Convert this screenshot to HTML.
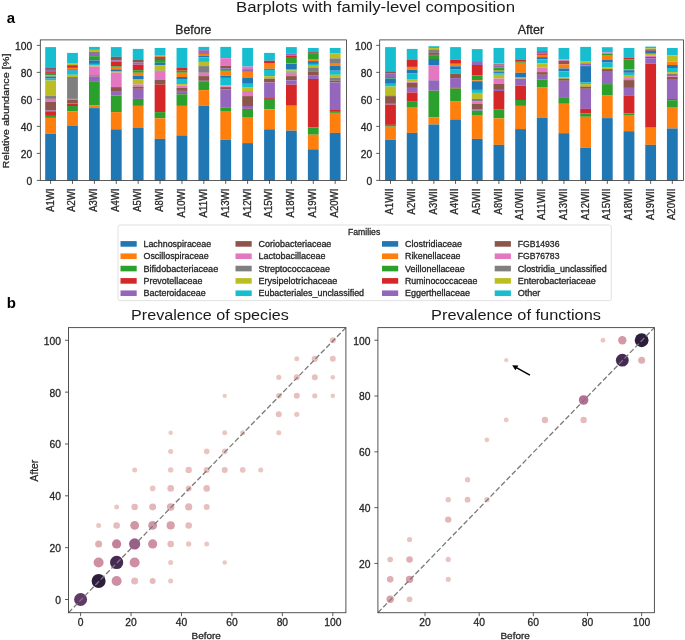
<!DOCTYPE html><html><head><meta charset="utf-8"><style>html,body{margin:0;padding:0;background:#fff;width:685px;height:640px;overflow:hidden}</style></head><body><svg width="685" height="640" viewBox="0 0 685 640" style="display:block;will-change:transform">
<style>text{stroke:#222;stroke-width:0.28px;paint-order:stroke}</style>
<g font-family='"Liberation Sans", sans-serif'>
<rect x="45.20" y="47.10" width="10.80" height="20.30" fill="#17becf"/>
<rect x="45.20" y="67.40" width="10.80" height="2.50" fill="#8c564b"/>
<rect x="45.20" y="69.90" width="10.80" height="2.20" fill="#9467bd"/>
<rect x="45.20" y="72.10" width="10.80" height="0.90" fill="#d62728"/>
<rect x="45.20" y="73.00" width="10.80" height="2.40" fill="#2ca02c"/>
<rect x="45.20" y="75.40" width="10.80" height="1.10" fill="#ff7f0e"/>
<rect x="45.20" y="76.50" width="10.80" height="2.10" fill="#1f77b4"/>
<rect x="45.20" y="78.60" width="10.80" height="1.90" fill="#17becf"/>
<rect x="45.20" y="80.50" width="10.80" height="15.30" fill="#bcbd22"/>
<rect x="45.20" y="95.80" width="10.80" height="3.10" fill="#7f7f7f"/>
<rect x="45.20" y="98.90" width="10.80" height="3.00" fill="#e377c2"/>
<rect x="45.20" y="101.90" width="10.80" height="8.60" fill="#8c564b"/>
<rect x="45.20" y="110.50" width="10.80" height="0.80" fill="#9467bd"/>
<rect x="45.20" y="111.30" width="10.80" height="4.60" fill="#d62728"/>
<rect x="45.20" y="115.90" width="10.80" height="2.00" fill="#2ca02c"/>
<rect x="45.20" y="117.90" width="10.80" height="15.80" fill="#ff7f0e"/>
<rect x="45.20" y="133.70" width="10.80" height="46.70" fill="#1f77b4"/>
<rect x="67.09" y="52.90" width="10.80" height="10.20" fill="#17becf"/>
<rect x="67.09" y="63.10" width="10.80" height="2.10" fill="#bcbd22"/>
<rect x="67.09" y="65.20" width="10.80" height="2.70" fill="#d62728"/>
<rect x="67.09" y="67.90" width="10.80" height="1.40" fill="#ff7f0e"/>
<rect x="67.09" y="69.30" width="10.80" height="1.40" fill="#1f77b4"/>
<rect x="67.09" y="70.70" width="10.80" height="4.10" fill="#17becf"/>
<rect x="67.09" y="74.80" width="10.80" height="2.20" fill="#bcbd22"/>
<rect x="67.09" y="77.00" width="10.80" height="21.90" fill="#7f7f7f"/>
<rect x="67.09" y="98.90" width="10.80" height="1.10" fill="#e377c2"/>
<rect x="67.09" y="100.00" width="10.80" height="3.00" fill="#8c564b"/>
<rect x="67.09" y="103.00" width="10.80" height="0.80" fill="#9467bd"/>
<rect x="67.09" y="103.80" width="10.80" height="2.20" fill="#d62728"/>
<rect x="67.09" y="106.00" width="10.80" height="5.20" fill="#2ca02c"/>
<rect x="67.09" y="111.20" width="10.80" height="14.80" fill="#ff7f0e"/>
<rect x="67.09" y="126.00" width="10.80" height="54.40" fill="#1f77b4"/>
<rect x="88.98" y="46.90" width="10.80" height="3.00" fill="#17becf"/>
<rect x="88.98" y="49.90" width="10.80" height="1.90" fill="#bcbd22"/>
<rect x="88.98" y="51.80" width="10.80" height="2.20" fill="#7f7f7f"/>
<rect x="88.98" y="54.00" width="10.80" height="2.20" fill="#9467bd"/>
<rect x="88.98" y="56.20" width="10.80" height="4.20" fill="#2ca02c"/>
<rect x="88.98" y="60.40" width="10.80" height="3.50" fill="#1f77b4"/>
<rect x="88.98" y="63.90" width="10.80" height="1.30" fill="#17becf"/>
<rect x="88.98" y="65.20" width="10.80" height="1.40" fill="#bcbd22"/>
<rect x="88.98" y="66.60" width="10.80" height="8.80" fill="#e377c2"/>
<rect x="88.98" y="75.40" width="10.80" height="1.10" fill="#8c564b"/>
<rect x="88.98" y="76.50" width="10.80" height="5.40" fill="#9467bd"/>
<rect x="88.98" y="81.90" width="10.80" height="23.60" fill="#2ca02c"/>
<rect x="88.98" y="105.50" width="10.80" height="2.60" fill="#ff7f0e"/>
<rect x="88.98" y="108.10" width="10.80" height="72.30" fill="#1f77b4"/>
<rect x="110.87" y="47.10" width="10.80" height="9.70" fill="#17becf"/>
<rect x="110.87" y="56.80" width="10.80" height="3.60" fill="#8c564b"/>
<rect x="110.87" y="60.40" width="10.80" height="1.10" fill="#9467bd"/>
<rect x="110.87" y="61.50" width="10.80" height="4.80" fill="#d62728"/>
<rect x="110.87" y="66.30" width="10.80" height="1.40" fill="#2ca02c"/>
<rect x="110.87" y="67.70" width="10.80" height="1.60" fill="#ff7f0e"/>
<rect x="110.87" y="69.30" width="10.80" height="1.70" fill="#1f77b4"/>
<rect x="110.87" y="71.00" width="10.80" height="0.80" fill="#17becf"/>
<rect x="110.87" y="71.80" width="10.80" height="0.80" fill="#bcbd22"/>
<rect x="110.87" y="72.60" width="10.80" height="14.50" fill="#e377c2"/>
<rect x="110.87" y="87.10" width="10.80" height="4.70" fill="#8c564b"/>
<rect x="110.87" y="91.80" width="10.80" height="3.80" fill="#9467bd"/>
<rect x="110.87" y="95.60" width="10.80" height="16.50" fill="#2ca02c"/>
<rect x="110.87" y="112.10" width="10.80" height="17.20" fill="#ff7f0e"/>
<rect x="110.87" y="129.30" width="10.80" height="51.10" fill="#1f77b4"/>
<rect x="132.76" y="48.90" width="10.80" height="11.10" fill="#17becf"/>
<rect x="132.76" y="60.00" width="10.80" height="2.60" fill="#8c564b"/>
<rect x="132.76" y="62.60" width="10.80" height="2.10" fill="#9467bd"/>
<rect x="132.76" y="64.70" width="10.80" height="5.50" fill="#d62728"/>
<rect x="132.76" y="70.20" width="10.80" height="2.60" fill="#2ca02c"/>
<rect x="132.76" y="72.80" width="10.80" height="2.90" fill="#ff7f0e"/>
<rect x="132.76" y="75.70" width="10.80" height="3.30" fill="#1f77b4"/>
<rect x="132.76" y="79.00" width="10.80" height="5.40" fill="#bcbd22"/>
<rect x="132.76" y="84.40" width="10.80" height="2.20" fill="#e377c2"/>
<rect x="132.76" y="86.60" width="10.80" height="2.20" fill="#8c564b"/>
<rect x="132.76" y="88.80" width="10.80" height="10.10" fill="#9467bd"/>
<rect x="132.76" y="98.90" width="10.80" height="7.00" fill="#2ca02c"/>
<rect x="132.76" y="105.90" width="10.80" height="22.10" fill="#ff7f0e"/>
<rect x="132.76" y="128.00" width="10.80" height="52.40" fill="#1f77b4"/>
<rect x="154.65" y="48.00" width="10.80" height="7.30" fill="#17becf"/>
<rect x="154.65" y="55.30" width="10.80" height="1.50" fill="#ff7f0e"/>
<rect x="154.65" y="56.80" width="10.80" height="3.20" fill="#8c564b"/>
<rect x="154.65" y="60.00" width="10.80" height="2.80" fill="#2ca02c"/>
<rect x="154.65" y="62.80" width="10.80" height="2.40" fill="#1f77b4"/>
<rect x="154.65" y="65.20" width="10.80" height="5.50" fill="#bcbd22"/>
<rect x="154.65" y="70.70" width="10.80" height="1.00" fill="#7f7f7f"/>
<rect x="154.65" y="71.70" width="10.80" height="8.00" fill="#e377c2"/>
<rect x="154.65" y="79.70" width="10.80" height="5.00" fill="#8c564b"/>
<rect x="154.65" y="84.70" width="10.80" height="27.40" fill="#d62728"/>
<rect x="154.65" y="112.10" width="10.80" height="6.20" fill="#2ca02c"/>
<rect x="154.65" y="118.30" width="10.80" height="20.60" fill="#ff7f0e"/>
<rect x="154.65" y="138.90" width="10.80" height="41.50" fill="#1f77b4"/>
<rect x="176.54" y="48.00" width="10.80" height="20.00" fill="#17becf"/>
<rect x="176.54" y="68.00" width="10.80" height="2.70" fill="#d62728"/>
<rect x="176.54" y="70.70" width="10.80" height="2.10" fill="#2ca02c"/>
<rect x="176.54" y="72.80" width="10.80" height="4.20" fill="#ff7f0e"/>
<rect x="176.54" y="77.00" width="10.80" height="2.00" fill="#1f77b4"/>
<rect x="176.54" y="79.00" width="10.80" height="5.10" fill="#17becf"/>
<rect x="176.54" y="84.10" width="10.80" height="1.60" fill="#bcbd22"/>
<rect x="176.54" y="85.70" width="10.80" height="2.20" fill="#e377c2"/>
<rect x="176.54" y="87.90" width="10.80" height="3.00" fill="#8c564b"/>
<rect x="176.54" y="90.90" width="10.80" height="2.30" fill="#9467bd"/>
<rect x="176.54" y="93.20" width="10.80" height="1.10" fill="#d62728"/>
<rect x="176.54" y="94.30" width="10.80" height="11.60" fill="#2ca02c"/>
<rect x="176.54" y="105.90" width="10.80" height="29.50" fill="#ff7f0e"/>
<rect x="176.54" y="135.40" width="10.80" height="45.00" fill="#1f77b4"/>
<rect x="198.43" y="46.90" width="10.80" height="3.30" fill="#17becf"/>
<rect x="198.43" y="50.20" width="10.80" height="2.70" fill="#9467bd"/>
<rect x="198.43" y="52.90" width="10.80" height="0.90" fill="#d62728"/>
<rect x="198.43" y="53.80" width="10.80" height="2.20" fill="#ff7f0e"/>
<rect x="198.43" y="56.00" width="10.80" height="1.30" fill="#1f77b4"/>
<rect x="198.43" y="57.30" width="10.80" height="4.60" fill="#17becf"/>
<rect x="198.43" y="61.90" width="10.80" height="4.20" fill="#bcbd22"/>
<rect x="198.43" y="66.10" width="10.80" height="6.70" fill="#7f7f7f"/>
<rect x="198.43" y="72.80" width="10.80" height="3.30" fill="#e377c2"/>
<rect x="198.43" y="76.10" width="10.80" height="4.70" fill="#8c564b"/>
<rect x="198.43" y="80.80" width="10.80" height="1.10" fill="#9467bd"/>
<rect x="198.43" y="81.90" width="10.80" height="8.20" fill="#2ca02c"/>
<rect x="198.43" y="90.10" width="10.80" height="15.80" fill="#ff7f0e"/>
<rect x="198.43" y="105.90" width="10.80" height="74.50" fill="#1f77b4"/>
<rect x="220.32" y="46.90" width="10.80" height="11.30" fill="#17becf"/>
<rect x="220.32" y="58.20" width="10.80" height="7.60" fill="#e377c2"/>
<rect x="220.32" y="65.80" width="10.80" height="2.40" fill="#8c564b"/>
<rect x="220.32" y="68.20" width="10.80" height="1.00" fill="#9467bd"/>
<rect x="220.32" y="69.20" width="10.80" height="1.00" fill="#d62728"/>
<rect x="220.32" y="70.20" width="10.80" height="0.80" fill="#2ca02c"/>
<rect x="220.32" y="71.00" width="10.80" height="4.70" fill="#ff7f0e"/>
<rect x="220.32" y="75.70" width="10.80" height="2.20" fill="#1f77b4"/>
<rect x="220.32" y="77.90" width="10.80" height="7.30" fill="#17becf"/>
<rect x="220.32" y="85.20" width="10.80" height="1.10" fill="#bcbd22"/>
<rect x="220.32" y="86.30" width="10.80" height="0.80" fill="#e377c2"/>
<rect x="220.32" y="87.10" width="10.80" height="2.50" fill="#8c564b"/>
<rect x="220.32" y="89.60" width="10.80" height="17.70" fill="#9467bd"/>
<rect x="220.32" y="107.30" width="10.80" height="3.70" fill="#2ca02c"/>
<rect x="220.32" y="111.00" width="10.80" height="28.80" fill="#ff7f0e"/>
<rect x="220.32" y="139.80" width="10.80" height="40.60" fill="#1f77b4"/>
<rect x="242.21" y="48.00" width="10.80" height="18.60" fill="#17becf"/>
<rect x="242.21" y="66.60" width="10.80" height="2.50" fill="#e377c2"/>
<rect x="242.21" y="69.10" width="10.80" height="1.90" fill="#9467bd"/>
<rect x="242.21" y="71.00" width="10.80" height="0.70" fill="#d62728"/>
<rect x="242.21" y="71.70" width="10.80" height="5.80" fill="#ff7f0e"/>
<rect x="242.21" y="77.50" width="10.80" height="6.30" fill="#1f77b4"/>
<rect x="242.21" y="83.80" width="10.80" height="3.30" fill="#17becf"/>
<rect x="242.21" y="87.10" width="10.80" height="3.90" fill="#bcbd22"/>
<rect x="242.21" y="91.00" width="10.80" height="5.10" fill="#e377c2"/>
<rect x="242.21" y="96.10" width="10.80" height="9.90" fill="#8c564b"/>
<rect x="242.21" y="106.00" width="10.80" height="2.80" fill="#9467bd"/>
<rect x="242.21" y="108.80" width="10.80" height="1.10" fill="#d62728"/>
<rect x="242.21" y="109.90" width="10.80" height="7.10" fill="#2ca02c"/>
<rect x="242.21" y="117.00" width="10.80" height="26.10" fill="#ff7f0e"/>
<rect x="242.21" y="143.10" width="10.80" height="37.30" fill="#1f77b4"/>
<rect x="264.10" y="52.90" width="10.80" height="7.90" fill="#17becf"/>
<rect x="264.10" y="60.80" width="10.80" height="2.20" fill="#d62728"/>
<rect x="264.10" y="63.00" width="10.80" height="5.80" fill="#ff7f0e"/>
<rect x="264.10" y="68.80" width="10.80" height="1.10" fill="#1f77b4"/>
<rect x="264.10" y="69.90" width="10.80" height="6.20" fill="#17becf"/>
<rect x="264.10" y="76.10" width="10.80" height="2.50" fill="#bcbd22"/>
<rect x="264.10" y="78.60" width="10.80" height="3.90" fill="#8c564b"/>
<rect x="264.10" y="82.50" width="10.80" height="15.50" fill="#9467bd"/>
<rect x="264.10" y="98.00" width="10.80" height="0.90" fill="#d62728"/>
<rect x="264.10" y="98.90" width="10.80" height="10.50" fill="#2ca02c"/>
<rect x="264.10" y="109.40" width="10.80" height="19.90" fill="#ff7f0e"/>
<rect x="264.10" y="129.30" width="10.80" height="51.10" fill="#1f77b4"/>
<rect x="285.99" y="47.10" width="10.80" height="6.70" fill="#17becf"/>
<rect x="285.99" y="53.80" width="10.80" height="1.90" fill="#9467bd"/>
<rect x="285.99" y="55.70" width="10.80" height="2.20" fill="#d62728"/>
<rect x="285.99" y="57.90" width="10.80" height="5.10" fill="#2ca02c"/>
<rect x="285.99" y="63.00" width="10.80" height="0.90" fill="#ff7f0e"/>
<rect x="285.99" y="63.90" width="10.80" height="5.20" fill="#1f77b4"/>
<rect x="285.99" y="69.10" width="10.80" height="1.30" fill="#17becf"/>
<rect x="285.99" y="70.40" width="10.80" height="2.00" fill="#bcbd22"/>
<rect x="285.99" y="72.40" width="10.80" height="1.30" fill="#7f7f7f"/>
<rect x="285.99" y="73.70" width="10.80" height="2.40" fill="#e377c2"/>
<rect x="285.99" y="76.10" width="10.80" height="4.20" fill="#8c564b"/>
<rect x="285.99" y="80.30" width="10.80" height="4.40" fill="#9467bd"/>
<rect x="285.99" y="84.70" width="10.80" height="20.50" fill="#d62728"/>
<rect x="285.99" y="105.20" width="10.80" height="0.80" fill="#2ca02c"/>
<rect x="285.99" y="106.00" width="10.80" height="24.70" fill="#ff7f0e"/>
<rect x="285.99" y="130.70" width="10.80" height="49.70" fill="#1f77b4"/>
<rect x="307.88" y="48.00" width="10.80" height="4.10" fill="#17becf"/>
<rect x="307.88" y="52.10" width="10.80" height="1.70" fill="#8c564b"/>
<rect x="307.88" y="53.80" width="10.80" height="5.90" fill="#2ca02c"/>
<rect x="307.88" y="59.70" width="10.80" height="1.40" fill="#ff7f0e"/>
<rect x="307.88" y="61.10" width="10.80" height="2.80" fill="#1f77b4"/>
<rect x="307.88" y="63.90" width="10.80" height="1.90" fill="#17becf"/>
<rect x="307.88" y="65.80" width="10.80" height="1.60" fill="#bcbd22"/>
<rect x="307.88" y="67.40" width="10.80" height="3.90" fill="#7f7f7f"/>
<rect x="307.88" y="71.30" width="10.80" height="4.40" fill="#8c564b"/>
<rect x="307.88" y="75.70" width="10.80" height="3.30" fill="#9467bd"/>
<rect x="307.88" y="79.00" width="10.80" height="48.40" fill="#d62728"/>
<rect x="307.88" y="127.40" width="10.80" height="7.30" fill="#2ca02c"/>
<rect x="307.88" y="134.70" width="10.80" height="14.60" fill="#ff7f0e"/>
<rect x="307.88" y="149.30" width="10.80" height="31.10" fill="#1f77b4"/>
<rect x="329.77" y="48.00" width="10.80" height="5.50" fill="#17becf"/>
<rect x="329.77" y="53.50" width="10.80" height="4.90" fill="#bcbd22"/>
<rect x="329.77" y="58.40" width="10.80" height="4.60" fill="#7f7f7f"/>
<rect x="329.77" y="63.00" width="10.80" height="2.80" fill="#ff7f0e"/>
<rect x="329.77" y="65.80" width="10.80" height="4.90" fill="#1f77b4"/>
<rect x="329.77" y="70.70" width="10.80" height="4.10" fill="#17becf"/>
<rect x="329.77" y="74.80" width="10.80" height="3.10" fill="#bcbd22"/>
<rect x="329.77" y="77.90" width="10.80" height="2.90" fill="#7f7f7f"/>
<rect x="329.77" y="80.80" width="10.80" height="1.70" fill="#8c564b"/>
<rect x="329.77" y="82.50" width="10.80" height="27.50" fill="#9467bd"/>
<rect x="329.77" y="110.00" width="10.80" height="1.00" fill="#d62728"/>
<rect x="329.77" y="111.00" width="10.80" height="1.90" fill="#2ca02c"/>
<rect x="329.77" y="112.90" width="10.80" height="20.00" fill="#ff7f0e"/>
<rect x="329.77" y="132.90" width="10.80" height="47.50" fill="#1f77b4"/>
<line x1="36.8" y1="180.40" x2="40.3" y2="180.40" stroke="#333" stroke-width="0.8"/>
<text x="32.2" y="185.00" font-size="10.0" text-anchor="end" font-weight="normal" fill="#262626" textLength="5.73" lengthAdjust="spacingAndGlyphs">0</text>
<line x1="36.8" y1="153.39" x2="40.3" y2="153.39" stroke="#333" stroke-width="0.8"/>
<text x="32.2" y="157.99" font-size="10.0" text-anchor="end" font-weight="normal" fill="#262626" textLength="11.45" lengthAdjust="spacingAndGlyphs">20</text>
<line x1="36.8" y1="126.38" x2="40.3" y2="126.38" stroke="#333" stroke-width="0.8"/>
<text x="32.2" y="130.98" font-size="10.0" text-anchor="end" font-weight="normal" fill="#262626" textLength="11.45" lengthAdjust="spacingAndGlyphs">40</text>
<line x1="36.8" y1="99.37" x2="40.3" y2="99.37" stroke="#333" stroke-width="0.8"/>
<text x="32.2" y="103.97" font-size="10.0" text-anchor="end" font-weight="normal" fill="#262626" textLength="11.45" lengthAdjust="spacingAndGlyphs">60</text>
<line x1="36.8" y1="72.36" x2="40.3" y2="72.36" stroke="#333" stroke-width="0.8"/>
<text x="32.2" y="76.96" font-size="10.0" text-anchor="end" font-weight="normal" fill="#262626" textLength="11.45" lengthAdjust="spacingAndGlyphs">80</text>
<line x1="36.8" y1="45.35" x2="40.3" y2="45.35" stroke="#333" stroke-width="0.8"/>
<text x="32.2" y="49.95" font-size="10.0" text-anchor="end" font-weight="normal" fill="#262626" textLength="17.18" lengthAdjust="spacingAndGlyphs">100</text>
<line x1="50.60" y1="180.4" x2="50.60" y2="183.9" stroke="#333" stroke-width="0.8"/>
<text transform="translate(53.50,188.7) rotate(-90)" font-size="10.2" text-anchor="end" fill="#262626" textLength="23.09" lengthAdjust="spacingAndGlyphs">A1WI</text>
<line x1="72.49" y1="180.4" x2="72.49" y2="183.9" stroke="#333" stroke-width="0.8"/>
<text transform="translate(75.39,188.7) rotate(-90)" font-size="10.2" text-anchor="end" fill="#262626" textLength="23.09" lengthAdjust="spacingAndGlyphs">A2WI</text>
<line x1="94.38" y1="180.4" x2="94.38" y2="183.9" stroke="#333" stroke-width="0.8"/>
<text transform="translate(97.28,188.7) rotate(-90)" font-size="10.2" text-anchor="end" fill="#262626" textLength="23.09" lengthAdjust="spacingAndGlyphs">A3WI</text>
<line x1="116.27" y1="180.4" x2="116.27" y2="183.9" stroke="#333" stroke-width="0.8"/>
<text transform="translate(119.17,188.7) rotate(-90)" font-size="10.2" text-anchor="end" fill="#262626" textLength="23.09" lengthAdjust="spacingAndGlyphs">A4WI</text>
<line x1="138.16" y1="180.4" x2="138.16" y2="183.9" stroke="#333" stroke-width="0.8"/>
<text transform="translate(141.06,188.7) rotate(-90)" font-size="10.2" text-anchor="end" fill="#262626" textLength="23.09" lengthAdjust="spacingAndGlyphs">A5WI</text>
<line x1="160.05" y1="180.4" x2="160.05" y2="183.9" stroke="#333" stroke-width="0.8"/>
<text transform="translate(162.95,188.7) rotate(-90)" font-size="10.2" text-anchor="end" fill="#262626" textLength="23.09" lengthAdjust="spacingAndGlyphs">A8WI</text>
<line x1="181.94" y1="180.4" x2="181.94" y2="183.9" stroke="#333" stroke-width="0.8"/>
<text transform="translate(184.84,188.7) rotate(-90)" font-size="10.2" text-anchor="end" fill="#262626" textLength="28.72" lengthAdjust="spacingAndGlyphs">A10WI</text>
<line x1="203.83" y1="180.4" x2="203.83" y2="183.9" stroke="#333" stroke-width="0.8"/>
<text transform="translate(206.73,188.7) rotate(-90)" font-size="10.2" text-anchor="end" fill="#262626" textLength="28.72" lengthAdjust="spacingAndGlyphs">A11WI</text>
<line x1="225.72" y1="180.4" x2="225.72" y2="183.9" stroke="#333" stroke-width="0.8"/>
<text transform="translate(228.62,188.7) rotate(-90)" font-size="10.2" text-anchor="end" fill="#262626" textLength="28.72" lengthAdjust="spacingAndGlyphs">A13WI</text>
<line x1="247.61" y1="180.4" x2="247.61" y2="183.9" stroke="#333" stroke-width="0.8"/>
<text transform="translate(250.51,188.7) rotate(-90)" font-size="10.2" text-anchor="end" fill="#262626" textLength="28.72" lengthAdjust="spacingAndGlyphs">A12WI</text>
<line x1="269.50" y1="180.4" x2="269.50" y2="183.9" stroke="#333" stroke-width="0.8"/>
<text transform="translate(272.40,188.7) rotate(-90)" font-size="10.2" text-anchor="end" fill="#262626" textLength="28.72" lengthAdjust="spacingAndGlyphs">A15WI</text>
<line x1="291.39" y1="180.4" x2="291.39" y2="183.9" stroke="#333" stroke-width="0.8"/>
<text transform="translate(294.29,188.7) rotate(-90)" font-size="10.2" text-anchor="end" fill="#262626" textLength="28.72" lengthAdjust="spacingAndGlyphs">A18WI</text>
<line x1="313.28" y1="180.4" x2="313.28" y2="183.9" stroke="#333" stroke-width="0.8"/>
<text transform="translate(316.18,188.7) rotate(-90)" font-size="10.2" text-anchor="end" fill="#262626" textLength="28.72" lengthAdjust="spacingAndGlyphs">A19WI</text>
<line x1="335.17" y1="180.4" x2="335.17" y2="183.9" stroke="#333" stroke-width="0.8"/>
<text transform="translate(338.07,188.7) rotate(-90)" font-size="10.2" text-anchor="end" fill="#262626" textLength="28.72" lengthAdjust="spacingAndGlyphs">A20WI</text>
<rect x="40.3" y="39.9" width="306.2" height="140.5" fill="none" stroke="#333" stroke-width="0.8"/>
<rect x="385.10" y="47.10" width="10.80" height="24.20" fill="#17becf"/>
<rect x="385.10" y="71.30" width="10.80" height="1.90" fill="#8c564b"/>
<rect x="385.10" y="73.20" width="10.80" height="3.80" fill="#9467bd"/>
<rect x="385.10" y="77.00" width="10.80" height="0.80" fill="#d62728"/>
<rect x="385.10" y="77.80" width="10.80" height="0.80" fill="#2ca02c"/>
<rect x="385.10" y="78.60" width="10.80" height="5.20" fill="#1f77b4"/>
<rect x="385.10" y="83.80" width="10.80" height="2.80" fill="#17becf"/>
<rect x="385.10" y="86.60" width="10.80" height="8.40" fill="#bcbd22"/>
<rect x="385.10" y="95.00" width="10.80" height="1.10" fill="#e377c2"/>
<rect x="385.10" y="96.10" width="10.80" height="6.90" fill="#8c564b"/>
<rect x="385.10" y="103.00" width="10.80" height="1.60" fill="#9467bd"/>
<rect x="385.10" y="104.60" width="10.80" height="20.30" fill="#d62728"/>
<rect x="385.10" y="124.90" width="10.80" height="1.80" fill="#2ca02c"/>
<rect x="385.10" y="126.70" width="10.80" height="13.10" fill="#ff7f0e"/>
<rect x="385.10" y="139.80" width="10.80" height="40.60" fill="#1f77b4"/>
<rect x="406.78" y="48.90" width="10.80" height="10.60" fill="#17becf"/>
<rect x="406.78" y="59.50" width="10.80" height="7.40" fill="#d62728"/>
<rect x="406.78" y="66.90" width="10.80" height="3.00" fill="#ff7f0e"/>
<rect x="406.78" y="69.90" width="10.80" height="3.30" fill="#1f77b4"/>
<rect x="406.78" y="73.20" width="10.80" height="6.50" fill="#17becf"/>
<rect x="406.78" y="79.70" width="10.80" height="1.70" fill="#bcbd22"/>
<rect x="406.78" y="81.40" width="10.80" height="1.30" fill="#e377c2"/>
<rect x="406.78" y="82.70" width="10.80" height="5.20" fill="#8c564b"/>
<rect x="406.78" y="87.90" width="10.80" height="4.60" fill="#9467bd"/>
<rect x="406.78" y="92.50" width="10.80" height="8.60" fill="#d62728"/>
<rect x="406.78" y="101.10" width="10.80" height="5.90" fill="#2ca02c"/>
<rect x="406.78" y="107.00" width="10.80" height="25.90" fill="#ff7f0e"/>
<rect x="406.78" y="132.90" width="10.80" height="47.50" fill="#1f77b4"/>
<rect x="428.46" y="46.20" width="10.80" height="1.80" fill="#17becf"/>
<rect x="428.46" y="48.00" width="10.80" height="1.40" fill="#bcbd22"/>
<rect x="428.46" y="49.40" width="10.80" height="3.50" fill="#7f7f7f"/>
<rect x="428.46" y="52.90" width="10.80" height="2.00" fill="#8c564b"/>
<rect x="428.46" y="54.90" width="10.80" height="1.10" fill="#9467bd"/>
<rect x="428.46" y="56.00" width="10.80" height="3.00" fill="#2ca02c"/>
<rect x="428.46" y="59.00" width="10.80" height="6.00" fill="#1f77b4"/>
<rect x="428.46" y="65.00" width="10.80" height="0.80" fill="#17becf"/>
<rect x="428.46" y="65.80" width="10.80" height="14.50" fill="#e377c2"/>
<rect x="428.46" y="80.30" width="10.80" height="10.40" fill="#9467bd"/>
<rect x="428.46" y="90.70" width="10.80" height="26.50" fill="#2ca02c"/>
<rect x="428.46" y="117.20" width="10.80" height="7.30" fill="#ff7f0e"/>
<rect x="428.46" y="124.50" width="10.80" height="55.90" fill="#1f77b4"/>
<rect x="450.14" y="47.10" width="10.80" height="12.60" fill="#17becf"/>
<rect x="450.14" y="59.70" width="10.80" height="3.30" fill="#d62728"/>
<rect x="450.14" y="63.00" width="10.80" height="0.90" fill="#2ca02c"/>
<rect x="450.14" y="63.90" width="10.80" height="2.40" fill="#ff7f0e"/>
<rect x="450.14" y="66.30" width="10.80" height="2.80" fill="#1f77b4"/>
<rect x="450.14" y="69.10" width="10.80" height="4.40" fill="#17becf"/>
<rect x="450.14" y="73.50" width="10.80" height="4.60" fill="#8c564b"/>
<rect x="450.14" y="78.10" width="10.80" height="9.30" fill="#9467bd"/>
<rect x="450.14" y="87.40" width="10.80" height="1.10" fill="#d62728"/>
<rect x="450.14" y="88.50" width="10.80" height="12.60" fill="#2ca02c"/>
<rect x="450.14" y="101.10" width="10.80" height="18.30" fill="#ff7f0e"/>
<rect x="450.14" y="119.40" width="10.80" height="61.00" fill="#1f77b4"/>
<rect x="471.82" y="49.10" width="10.80" height="12.00" fill="#17becf"/>
<rect x="471.82" y="61.10" width="10.80" height="3.90" fill="#9467bd"/>
<rect x="471.82" y="65.00" width="10.80" height="10.40" fill="#d62728"/>
<rect x="471.82" y="75.40" width="10.80" height="4.90" fill="#2ca02c"/>
<rect x="471.82" y="80.30" width="10.80" height="0.90" fill="#ff7f0e"/>
<rect x="471.82" y="81.20" width="10.80" height="8.70" fill="#1f77b4"/>
<rect x="471.82" y="89.90" width="10.80" height="3.00" fill="#17becf"/>
<rect x="471.82" y="92.90" width="10.80" height="6.00" fill="#bcbd22"/>
<rect x="471.82" y="98.90" width="10.80" height="2.70" fill="#7f7f7f"/>
<rect x="471.82" y="101.60" width="10.80" height="2.20" fill="#e377c2"/>
<rect x="471.82" y="103.80" width="10.80" height="5.40" fill="#8c564b"/>
<rect x="471.82" y="109.20" width="10.80" height="1.50" fill="#9467bd"/>
<rect x="471.82" y="110.70" width="10.80" height="5.00" fill="#2ca02c"/>
<rect x="471.82" y="115.70" width="10.80" height="23.20" fill="#ff7f0e"/>
<rect x="471.82" y="138.90" width="10.80" height="41.50" fill="#1f77b4"/>
<rect x="493.50" y="48.00" width="10.80" height="15.30" fill="#17becf"/>
<rect x="493.50" y="63.30" width="10.80" height="1.00" fill="#e377c2"/>
<rect x="493.50" y="64.30" width="10.80" height="1.30" fill="#8c564b"/>
<rect x="493.50" y="65.60" width="10.80" height="1.80" fill="#9467bd"/>
<rect x="493.50" y="67.40" width="10.80" height="3.30" fill="#2ca02c"/>
<rect x="493.50" y="70.70" width="10.80" height="1.40" fill="#ff7f0e"/>
<rect x="493.50" y="72.10" width="10.80" height="1.10" fill="#1f77b4"/>
<rect x="493.50" y="73.20" width="10.80" height="1.60" fill="#17becf"/>
<rect x="493.50" y="74.80" width="10.80" height="3.80" fill="#bcbd22"/>
<rect x="493.50" y="78.60" width="10.80" height="5.20" fill="#e377c2"/>
<rect x="493.50" y="83.80" width="10.80" height="6.10" fill="#8c564b"/>
<rect x="493.50" y="89.90" width="10.80" height="1.10" fill="#9467bd"/>
<rect x="493.50" y="91.00" width="10.80" height="18.20" fill="#d62728"/>
<rect x="493.50" y="109.20" width="10.80" height="9.10" fill="#2ca02c"/>
<rect x="493.50" y="118.30" width="10.80" height="26.60" fill="#ff7f0e"/>
<rect x="493.50" y="144.90" width="10.80" height="35.50" fill="#1f77b4"/>
<rect x="515.18" y="48.00" width="10.80" height="12.00" fill="#17becf"/>
<rect x="515.18" y="60.00" width="10.80" height="1.10" fill="#d62728"/>
<rect x="515.18" y="61.10" width="10.80" height="1.70" fill="#2ca02c"/>
<rect x="515.18" y="62.80" width="10.80" height="10.00" fill="#ff7f0e"/>
<rect x="515.18" y="72.80" width="10.80" height="4.40" fill="#1f77b4"/>
<rect x="515.18" y="77.20" width="10.80" height="0.70" fill="#17becf"/>
<rect x="515.18" y="77.90" width="10.80" height="0.70" fill="#bcbd22"/>
<rect x="515.18" y="78.60" width="10.80" height="7.10" fill="#9467bd"/>
<rect x="515.18" y="85.70" width="10.80" height="14.30" fill="#d62728"/>
<rect x="515.18" y="100.00" width="10.80" height="5.90" fill="#2ca02c"/>
<rect x="515.18" y="105.90" width="10.80" height="23.20" fill="#ff7f0e"/>
<rect x="515.18" y="129.10" width="10.80" height="51.30" fill="#1f77b4"/>
<rect x="536.86" y="47.10" width="10.80" height="3.90" fill="#17becf"/>
<rect x="536.86" y="51.00" width="10.80" height="2.50" fill="#9467bd"/>
<rect x="536.86" y="53.50" width="10.80" height="1.40" fill="#d62728"/>
<rect x="536.86" y="54.90" width="10.80" height="2.20" fill="#ff7f0e"/>
<rect x="536.86" y="57.10" width="10.80" height="2.20" fill="#1f77b4"/>
<rect x="536.86" y="59.30" width="10.80" height="4.00" fill="#17becf"/>
<rect x="536.86" y="63.30" width="10.80" height="4.40" fill="#bcbd22"/>
<rect x="536.86" y="67.70" width="10.80" height="4.40" fill="#e377c2"/>
<rect x="536.86" y="72.10" width="10.80" height="2.70" fill="#8c564b"/>
<rect x="536.86" y="74.80" width="10.80" height="4.90" fill="#9467bd"/>
<rect x="536.86" y="79.70" width="10.80" height="7.40" fill="#2ca02c"/>
<rect x="536.86" y="87.10" width="10.80" height="30.50" fill="#ff7f0e"/>
<rect x="536.86" y="117.60" width="10.80" height="62.80" fill="#1f77b4"/>
<rect x="558.54" y="48.00" width="10.80" height="11.50" fill="#17becf"/>
<rect x="558.54" y="59.50" width="10.80" height="1.30" fill="#e377c2"/>
<rect x="558.54" y="60.80" width="10.80" height="3.60" fill="#8c564b"/>
<rect x="558.54" y="64.40" width="10.80" height="4.10" fill="#ff7f0e"/>
<rect x="558.54" y="68.50" width="10.80" height="2.80" fill="#1f77b4"/>
<rect x="558.54" y="71.30" width="10.80" height="5.90" fill="#17becf"/>
<rect x="558.54" y="77.20" width="10.80" height="1.40" fill="#bcbd22"/>
<rect x="558.54" y="78.60" width="10.80" height="2.20" fill="#8c564b"/>
<rect x="558.54" y="80.80" width="10.80" height="16.40" fill="#9467bd"/>
<rect x="558.54" y="97.20" width="10.80" height="6.60" fill="#2ca02c"/>
<rect x="558.54" y="103.80" width="10.80" height="29.40" fill="#ff7f0e"/>
<rect x="558.54" y="133.20" width="10.80" height="47.20" fill="#1f77b4"/>
<rect x="580.22" y="46.90" width="10.80" height="14.20" fill="#17becf"/>
<rect x="580.22" y="61.10" width="10.80" height="2.20" fill="#bcbd22"/>
<rect x="580.22" y="63.30" width="10.80" height="1.70" fill="#9467bd"/>
<rect x="580.22" y="65.00" width="10.80" height="1.10" fill="#ff7f0e"/>
<rect x="580.22" y="66.10" width="10.80" height="16.10" fill="#1f77b4"/>
<rect x="580.22" y="82.20" width="10.80" height="1.90" fill="#17becf"/>
<rect x="580.22" y="84.10" width="10.80" height="2.50" fill="#bcbd22"/>
<rect x="580.22" y="86.60" width="10.80" height="2.20" fill="#8c564b"/>
<rect x="580.22" y="88.80" width="10.80" height="20.10" fill="#9467bd"/>
<rect x="580.22" y="108.90" width="10.80" height="4.60" fill="#d62728"/>
<rect x="580.22" y="113.50" width="10.80" height="3.30" fill="#2ca02c"/>
<rect x="580.22" y="116.80" width="10.80" height="30.90" fill="#ff7f0e"/>
<rect x="580.22" y="147.70" width="10.80" height="32.70" fill="#1f77b4"/>
<rect x="601.90" y="47.20" width="10.80" height="5.20" fill="#17becf"/>
<rect x="601.90" y="52.40" width="10.80" height="1.60" fill="#e377c2"/>
<rect x="601.90" y="54.00" width="10.80" height="1.70" fill="#2ca02c"/>
<rect x="601.90" y="55.70" width="10.80" height="4.30" fill="#ff7f0e"/>
<rect x="601.90" y="60.00" width="10.80" height="2.60" fill="#1f77b4"/>
<rect x="601.90" y="62.60" width="10.80" height="4.60" fill="#17becf"/>
<rect x="601.90" y="67.20" width="10.80" height="1.90" fill="#bcbd22"/>
<rect x="601.90" y="69.10" width="10.80" height="1.90" fill="#8c564b"/>
<rect x="601.90" y="71.00" width="10.80" height="12.30" fill="#9467bd"/>
<rect x="601.90" y="83.30" width="10.80" height="0.80" fill="#d62728"/>
<rect x="601.90" y="84.10" width="10.80" height="11.50" fill="#2ca02c"/>
<rect x="601.90" y="95.60" width="10.80" height="22.50" fill="#ff7f0e"/>
<rect x="601.90" y="118.10" width="10.80" height="62.30" fill="#1f77b4"/>
<rect x="623.58" y="48.00" width="10.80" height="9.90" fill="#17becf"/>
<rect x="623.58" y="57.90" width="10.80" height="1.40" fill="#d62728"/>
<rect x="623.58" y="59.30" width="10.80" height="9.80" fill="#2ca02c"/>
<rect x="623.58" y="69.10" width="10.80" height="1.10" fill="#ff7f0e"/>
<rect x="623.58" y="70.20" width="10.80" height="2.60" fill="#1f77b4"/>
<rect x="623.58" y="72.80" width="10.80" height="2.90" fill="#17becf"/>
<rect x="623.58" y="75.70" width="10.80" height="2.40" fill="#bcbd22"/>
<rect x="623.58" y="78.10" width="10.80" height="2.00" fill="#e377c2"/>
<rect x="623.58" y="80.10" width="10.80" height="7.80" fill="#8c564b"/>
<rect x="623.58" y="87.90" width="10.80" height="7.50" fill="#9467bd"/>
<rect x="623.58" y="95.40" width="10.80" height="18.10" fill="#d62728"/>
<rect x="623.58" y="113.50" width="10.80" height="2.20" fill="#2ca02c"/>
<rect x="623.58" y="115.70" width="10.80" height="15.50" fill="#ff7f0e"/>
<rect x="623.58" y="131.20" width="10.80" height="49.20" fill="#1f77b4"/>
<rect x="645.26" y="46.60" width="10.80" height="1.70" fill="#17becf"/>
<rect x="645.26" y="48.30" width="10.80" height="1.10" fill="#bcbd22"/>
<rect x="645.26" y="49.40" width="10.80" height="1.30" fill="#d62728"/>
<rect x="645.26" y="50.70" width="10.80" height="3.10" fill="#1f77b4"/>
<rect x="645.26" y="53.80" width="10.80" height="1.90" fill="#bcbd22"/>
<rect x="645.26" y="55.70" width="10.80" height="1.30" fill="#e377c2"/>
<rect x="645.26" y="57.00" width="10.80" height="1.20" fill="#8c564b"/>
<rect x="645.26" y="58.20" width="10.80" height="5.50" fill="#9467bd"/>
<rect x="645.26" y="63.70" width="10.80" height="64.00" fill="#d62728"/>
<rect x="645.26" y="127.70" width="10.80" height="17.20" fill="#ff7f0e"/>
<rect x="645.26" y="144.90" width="10.80" height="35.50" fill="#1f77b4"/>
<rect x="666.94" y="48.00" width="10.80" height="7.30" fill="#17becf"/>
<rect x="666.94" y="55.30" width="10.80" height="6.20" fill="#bcbd22"/>
<rect x="666.94" y="61.50" width="10.80" height="3.50" fill="#ff7f0e"/>
<rect x="666.94" y="65.00" width="10.80" height="3.00" fill="#1f77b4"/>
<rect x="666.94" y="68.00" width="10.80" height="4.10" fill="#17becf"/>
<rect x="666.94" y="72.10" width="10.80" height="1.80" fill="#bcbd22"/>
<rect x="666.94" y="73.90" width="10.80" height="2.20" fill="#7f7f7f"/>
<rect x="666.94" y="76.10" width="10.80" height="0.90" fill="#e377c2"/>
<rect x="666.94" y="77.00" width="10.80" height="2.00" fill="#8c564b"/>
<rect x="666.94" y="79.00" width="10.80" height="20.10" fill="#9467bd"/>
<rect x="666.94" y="99.10" width="10.80" height="1.10" fill="#d62728"/>
<rect x="666.94" y="100.20" width="10.80" height="6.80" fill="#2ca02c"/>
<rect x="666.94" y="107.00" width="10.80" height="21.50" fill="#ff7f0e"/>
<rect x="666.94" y="128.50" width="10.80" height="51.90" fill="#1f77b4"/>
<line x1="376.2" y1="180.40" x2="379.7" y2="180.40" stroke="#333" stroke-width="0.8"/>
<text x="372.2" y="185.00" font-size="10.0" text-anchor="end" font-weight="normal" fill="#262626" textLength="5.73" lengthAdjust="spacingAndGlyphs">0</text>
<line x1="376.2" y1="153.39" x2="379.7" y2="153.39" stroke="#333" stroke-width="0.8"/>
<text x="372.2" y="157.99" font-size="10.0" text-anchor="end" font-weight="normal" fill="#262626" textLength="11.45" lengthAdjust="spacingAndGlyphs">20</text>
<line x1="376.2" y1="126.38" x2="379.7" y2="126.38" stroke="#333" stroke-width="0.8"/>
<text x="372.2" y="130.98" font-size="10.0" text-anchor="end" font-weight="normal" fill="#262626" textLength="11.45" lengthAdjust="spacingAndGlyphs">40</text>
<line x1="376.2" y1="99.37" x2="379.7" y2="99.37" stroke="#333" stroke-width="0.8"/>
<text x="372.2" y="103.97" font-size="10.0" text-anchor="end" font-weight="normal" fill="#262626" textLength="11.45" lengthAdjust="spacingAndGlyphs">60</text>
<line x1="376.2" y1="72.36" x2="379.7" y2="72.36" stroke="#333" stroke-width="0.8"/>
<text x="372.2" y="76.96" font-size="10.0" text-anchor="end" font-weight="normal" fill="#262626" textLength="11.45" lengthAdjust="spacingAndGlyphs">80</text>
<line x1="376.2" y1="45.35" x2="379.7" y2="45.35" stroke="#333" stroke-width="0.8"/>
<text x="372.2" y="49.95" font-size="10.0" text-anchor="end" font-weight="normal" fill="#262626" textLength="17.18" lengthAdjust="spacingAndGlyphs">100</text>
<line x1="390.50" y1="180.4" x2="390.50" y2="183.9" stroke="#333" stroke-width="0.8"/>
<text transform="translate(393.40,188.7) rotate(-90)" font-size="10.2" text-anchor="end" fill="#262626" textLength="25.70" lengthAdjust="spacingAndGlyphs">A1WII</text>
<line x1="412.18" y1="180.4" x2="412.18" y2="183.9" stroke="#333" stroke-width="0.8"/>
<text transform="translate(415.08,188.7) rotate(-90)" font-size="10.2" text-anchor="end" fill="#262626" textLength="25.70" lengthAdjust="spacingAndGlyphs">A2WII</text>
<line x1="433.86" y1="180.4" x2="433.86" y2="183.9" stroke="#333" stroke-width="0.8"/>
<text transform="translate(436.76,188.7) rotate(-90)" font-size="10.2" text-anchor="end" fill="#262626" textLength="25.70" lengthAdjust="spacingAndGlyphs">A3WII</text>
<line x1="455.54" y1="180.4" x2="455.54" y2="183.9" stroke="#333" stroke-width="0.8"/>
<text transform="translate(458.44,188.7) rotate(-90)" font-size="10.2" text-anchor="end" fill="#262626" textLength="25.70" lengthAdjust="spacingAndGlyphs">A4WII</text>
<line x1="477.22" y1="180.4" x2="477.22" y2="183.9" stroke="#333" stroke-width="0.8"/>
<text transform="translate(480.12,188.7) rotate(-90)" font-size="10.2" text-anchor="end" fill="#262626" textLength="25.70" lengthAdjust="spacingAndGlyphs">A5WII</text>
<line x1="498.90" y1="180.4" x2="498.90" y2="183.9" stroke="#333" stroke-width="0.8"/>
<text transform="translate(501.80,188.7) rotate(-90)" font-size="10.2" text-anchor="end" fill="#262626" textLength="25.70" lengthAdjust="spacingAndGlyphs">A8WII</text>
<line x1="520.58" y1="180.4" x2="520.58" y2="183.9" stroke="#333" stroke-width="0.8"/>
<text transform="translate(523.48,188.7) rotate(-90)" font-size="10.2" text-anchor="end" fill="#262626" textLength="31.34" lengthAdjust="spacingAndGlyphs">A10WII</text>
<line x1="542.26" y1="180.4" x2="542.26" y2="183.9" stroke="#333" stroke-width="0.8"/>
<text transform="translate(545.16,188.7) rotate(-90)" font-size="10.2" text-anchor="end" fill="#262626" textLength="31.34" lengthAdjust="spacingAndGlyphs">A11WII</text>
<line x1="563.94" y1="180.4" x2="563.94" y2="183.9" stroke="#333" stroke-width="0.8"/>
<text transform="translate(566.84,188.7) rotate(-90)" font-size="10.2" text-anchor="end" fill="#262626" textLength="31.34" lengthAdjust="spacingAndGlyphs">A13WII</text>
<line x1="585.62" y1="180.4" x2="585.62" y2="183.9" stroke="#333" stroke-width="0.8"/>
<text transform="translate(588.52,188.7) rotate(-90)" font-size="10.2" text-anchor="end" fill="#262626" textLength="31.34" lengthAdjust="spacingAndGlyphs">A12WII</text>
<line x1="607.30" y1="180.4" x2="607.30" y2="183.9" stroke="#333" stroke-width="0.8"/>
<text transform="translate(610.20,188.7) rotate(-90)" font-size="10.2" text-anchor="end" fill="#262626" textLength="31.34" lengthAdjust="spacingAndGlyphs">A15WII</text>
<line x1="628.98" y1="180.4" x2="628.98" y2="183.9" stroke="#333" stroke-width="0.8"/>
<text transform="translate(631.88,188.7) rotate(-90)" font-size="10.2" text-anchor="end" fill="#262626" textLength="31.34" lengthAdjust="spacingAndGlyphs">A18WII</text>
<line x1="650.66" y1="180.4" x2="650.66" y2="183.9" stroke="#333" stroke-width="0.8"/>
<text transform="translate(653.56,188.7) rotate(-90)" font-size="10.2" text-anchor="end" fill="#262626" textLength="31.34" lengthAdjust="spacingAndGlyphs">A19WII</text>
<line x1="672.34" y1="180.4" x2="672.34" y2="183.9" stroke="#333" stroke-width="0.8"/>
<text transform="translate(675.24,188.7) rotate(-90)" font-size="10.2" text-anchor="end" fill="#262626" textLength="31.34" lengthAdjust="spacingAndGlyphs">A20WII</text>
<rect x="379.7" y="39.9" width="303.7" height="140.5" fill="none" stroke="#333" stroke-width="0.8"/>
<text x="375.5" y="12" font-size="15.5" text-anchor="middle" font-weight="normal" fill="#1a1a1a" textLength="279" lengthAdjust="spacingAndGlyphs" style="stroke:none">Barplots with family-level composition</text>
<text x="193.3" y="33.9" font-size="12" text-anchor="middle" font-weight="normal" fill="#262626" textLength="35.96" lengthAdjust="spacingAndGlyphs">Before</text>
<text x="531" y="33.8" font-size="12" text-anchor="middle" font-weight="normal" fill="#262626" textLength="26.42" lengthAdjust="spacingAndGlyphs">After</text>
<text x="6.8" y="23.1" font-size="15" text-anchor="start" font-weight="bold" fill="#000" style="stroke:none">a</text>
<text transform="translate(9.3,111) rotate(-90)" font-size="9.8" text-anchor="middle" fill="#262626" textLength="114.8" lengthAdjust="spacingAndGlyphs">Relative abundance [%]</text>
<rect x="118" y="225" width="493.3" height="75.6" rx="2" fill="#fff" stroke="#d9d9d9" stroke-width="0.8"/>
<text x="364.1" y="235" font-size="8.15" text-anchor="middle" font-weight="normal" fill="#262626" textLength="32.32" lengthAdjust="spacingAndGlyphs">Families</text>
<rect x="120.5" y="241.10" width="16.2" height="5.6" fill="#1f77b4"/>
<text x="143.5" y="246.90" font-size="8.15" text-anchor="start" font-weight="normal" fill="#262626" textLength="67.6" lengthAdjust="spacingAndGlyphs">Lachnospiraceae</text>
<rect x="120.5" y="253.43" width="16.2" height="5.6" fill="#ff7f0e"/>
<text x="143.5" y="259.23" font-size="8.15" text-anchor="start" font-weight="normal" fill="#262626" textLength="65.23" lengthAdjust="spacingAndGlyphs">Oscillospiraceae</text>
<rect x="120.5" y="265.76" width="16.2" height="5.6" fill="#2ca02c"/>
<text x="143.5" y="271.56" font-size="8.15" text-anchor="start" font-weight="normal" fill="#262626" textLength="74.72" lengthAdjust="spacingAndGlyphs">Bifidobacteriaceae</text>
<rect x="120.5" y="278.09" width="16.2" height="5.6" fill="#d62728"/>
<text x="143.5" y="283.89" font-size="8.15" text-anchor="start" font-weight="normal" fill="#262626" textLength="58.9" lengthAdjust="spacingAndGlyphs">Prevotellaceae</text>
<rect x="120.5" y="290.42" width="16.2" height="5.6" fill="#9467bd"/>
<text x="143.5" y="296.22" font-size="8.15" text-anchor="start" font-weight="normal" fill="#262626" textLength="62.2" lengthAdjust="spacingAndGlyphs">Bacteroidaceae</text>
<rect x="235.5" y="241.10" width="16.2" height="5.6" fill="#8c564b"/>
<text x="258.5" y="246.90" font-size="8.15" text-anchor="start" font-weight="normal" fill="#262626" textLength="72.88" lengthAdjust="spacingAndGlyphs">Coriobacteriaceae</text>
<rect x="235.5" y="253.43" width="16.2" height="5.6" fill="#e377c2"/>
<text x="258.5" y="259.23" font-size="8.15" text-anchor="start" font-weight="normal" fill="#262626" textLength="66.88" lengthAdjust="spacingAndGlyphs">Lactobacillaceae</text>
<rect x="235.5" y="265.76" width="16.2" height="5.6" fill="#7f7f7f"/>
<text x="258.5" y="271.56" font-size="8.15" text-anchor="start" font-weight="normal" fill="#262626" textLength="71.5" lengthAdjust="spacingAndGlyphs">Streptococcaceae</text>
<rect x="235.5" y="278.09" width="16.2" height="5.6" fill="#bcbd22"/>
<text x="258.5" y="283.89" font-size="8.15" text-anchor="start" font-weight="normal" fill="#262626" textLength="78.75" lengthAdjust="spacingAndGlyphs">Erysipelotrichaceae</text>
<rect x="235.5" y="290.42" width="16.2" height="5.6" fill="#17becf"/>
<text x="258.5" y="296.22" font-size="8.15" text-anchor="start" font-weight="normal" fill="#262626" textLength="105.55" lengthAdjust="spacingAndGlyphs">Eubacteriales_unclassified</text>
<rect x="382.0" y="241.10" width="16.2" height="5.6" fill="#1f77b4"/>
<text x="405.0" y="246.90" font-size="8.15" text-anchor="start" font-weight="normal" fill="#262626" textLength="56.87" lengthAdjust="spacingAndGlyphs">Clostridiaceae</text>
<rect x="382.0" y="253.43" width="16.2" height="5.6" fill="#ff7f0e"/>
<text x="405.0" y="259.23" font-size="8.15" text-anchor="start" font-weight="normal" fill="#262626" textLength="55.54" lengthAdjust="spacingAndGlyphs">Rikenellaceae</text>
<rect x="382.0" y="265.76" width="16.2" height="5.6" fill="#2ca02c"/>
<text x="405.0" y="271.56" font-size="8.15" text-anchor="start" font-weight="normal" fill="#262626" textLength="59.82" lengthAdjust="spacingAndGlyphs">Veillonellaceae</text>
<rect x="382.0" y="278.09" width="16.2" height="5.6" fill="#d62728"/>
<text x="405.0" y="283.89" font-size="8.15" text-anchor="start" font-weight="normal" fill="#262626" textLength="72.39" lengthAdjust="spacingAndGlyphs">Ruminococcaceae</text>
<rect x="382.0" y="290.42" width="16.2" height="5.6" fill="#9467bd"/>
<text x="405.0" y="296.22" font-size="8.15" text-anchor="start" font-weight="normal" fill="#262626" textLength="65.04" lengthAdjust="spacingAndGlyphs">Eggerthellaceae</text>
<rect x="494.7" y="241.10" width="16.2" height="5.6" fill="#8c564b"/>
<text x="517.7" y="246.90" font-size="8.15" text-anchor="start" font-weight="normal" fill="#262626" textLength="41.74" lengthAdjust="spacingAndGlyphs">FGB14936</text>
<rect x="494.7" y="253.43" width="16.2" height="5.6" fill="#e377c2"/>
<text x="517.7" y="259.23" font-size="8.15" text-anchor="start" font-weight="normal" fill="#262626" textLength="41.74" lengthAdjust="spacingAndGlyphs">FGB76783</text>
<rect x="494.7" y="265.76" width="16.2" height="5.6" fill="#7f7f7f"/>
<text x="517.7" y="271.56" font-size="8.15" text-anchor="start" font-weight="normal" fill="#262626" textLength="88.99" lengthAdjust="spacingAndGlyphs">Clostridia_unclassified</text>
<rect x="494.7" y="278.09" width="16.2" height="5.6" fill="#bcbd22"/>
<text x="517.7" y="283.89" font-size="8.15" text-anchor="start" font-weight="normal" fill="#262626" textLength="78.19" lengthAdjust="spacingAndGlyphs">Enterobacteriaceae</text>
<rect x="494.7" y="290.42" width="16.2" height="5.6" fill="#17becf"/>
<text x="517.7" y="296.22" font-size="8.15" text-anchor="start" font-weight="normal" fill="#262626" textLength="22.72" lengthAdjust="spacingAndGlyphs">Other</text>
<circle cx="80.60" cy="599.50" r="6.5" fill="#613969"/>
<circle cx="98.61" cy="580.99" r="7.0" fill="#2d1e3e"/>
<circle cx="116.63" cy="562.47" r="6.6" fill="#452b54"/>
<circle cx="116.63" cy="580.99" r="5.0" fill="#ce8fa2"/>
<circle cx="98.61" cy="562.47" r="5.0" fill="#ce8fa2"/>
<circle cx="134.64" cy="562.47" r="5.0" fill="#ce8fa2"/>
<circle cx="134.64" cy="543.96" r="5.6" fill="#9d5d89"/>
<circle cx="98.61" cy="543.96" r="3.5" fill="#e0afb3"/>
<circle cx="134.64" cy="580.99" r="3.5" fill="#e5bcbb"/>
<circle cx="152.66" cy="580.99" r="3.0" fill="#e5bcbb"/>
<circle cx="170.67" cy="580.99" r="2.5" fill="#eac7c3"/>
<circle cx="170.67" cy="562.47" r="2.5" fill="#eac7c3"/>
<circle cx="224.71" cy="562.47" r="2.3" fill="#eac8c4"/>
<circle cx="116.63" cy="543.96" r="4.6" fill="#c3819c"/>
<circle cx="152.66" cy="543.96" r="4.6" fill="#ce8fa2"/>
<circle cx="170.67" cy="543.96" r="3.3" fill="#e5bcbb"/>
<circle cx="188.69" cy="543.96" r="2.7" fill="#eac7c3"/>
<circle cx="206.70" cy="543.96" r="2.5" fill="#eac7c3"/>
<circle cx="98.61" cy="525.44" r="2.5" fill="#eac7c3"/>
<circle cx="116.63" cy="525.44" r="3.3" fill="#e5bcbb"/>
<circle cx="134.64" cy="525.44" r="4.4" fill="#d295a5"/>
<circle cx="152.66" cy="525.44" r="4.4" fill="#d295a5"/>
<circle cx="170.67" cy="525.44" r="4.1" fill="#d8a0aa"/>
<circle cx="188.69" cy="525.44" r="3.3" fill="#e5bcbb"/>
<circle cx="116.63" cy="506.93" r="2.5" fill="#eac7c3"/>
<circle cx="134.64" cy="506.93" r="3.3" fill="#e5bcbb"/>
<circle cx="152.66" cy="506.93" r="3.5" fill="#e3b6b7"/>
<circle cx="170.67" cy="506.93" r="3.8" fill="#e0afb3"/>
<circle cx="188.69" cy="506.93" r="3.6" fill="#e3b6b7"/>
<circle cx="206.70" cy="506.93" r="3.0" fill="#e7bfbd"/>
<circle cx="152.66" cy="488.41" r="2.8" fill="#e9c4c1"/>
<circle cx="170.67" cy="488.41" r="3.3" fill="#e5bcbb"/>
<circle cx="188.69" cy="488.41" r="3.0" fill="#e7bfbd"/>
<circle cx="206.70" cy="488.41" r="3.3" fill="#e5bcbb"/>
<circle cx="134.64" cy="469.90" r="2.5" fill="#eac7c3"/>
<circle cx="170.67" cy="469.90" r="2.7" fill="#eac7c3"/>
<circle cx="188.69" cy="469.90" r="3.2" fill="#e7bfbd"/>
<circle cx="206.70" cy="469.90" r="3.0" fill="#e7bfbd"/>
<circle cx="224.71" cy="469.90" r="3.0" fill="#e7bfbd"/>
<circle cx="242.73" cy="469.90" r="2.8" fill="#e9c4c1"/>
<circle cx="260.74" cy="469.90" r="2.5" fill="#eac7c3"/>
<circle cx="170.67" cy="451.39" r="2.5" fill="#eac7c3"/>
<circle cx="206.70" cy="451.39" r="2.8" fill="#e9c4c1"/>
<circle cx="224.71" cy="451.39" r="2.8" fill="#e9c4c1"/>
<circle cx="170.67" cy="432.87" r="2.3" fill="#ebcbc6"/>
<circle cx="224.71" cy="432.87" r="2.5" fill="#eac7c3"/>
<circle cx="242.73" cy="432.87" r="2.5" fill="#eac7c3"/>
<circle cx="278.76" cy="432.87" r="2.5" fill="#eac7c3"/>
<circle cx="278.76" cy="414.36" r="3.0" fill="#e7bfbd"/>
<circle cx="296.77" cy="414.36" r="2.6" fill="#e9c4c1"/>
<circle cx="224.71" cy="395.84" r="2.2" fill="#ebcbc6"/>
<circle cx="278.76" cy="395.84" r="2.8" fill="#e8c2bf"/>
<circle cx="296.77" cy="395.84" r="3.0" fill="#e7bfbd"/>
<circle cx="314.79" cy="395.84" r="2.6" fill="#e9c4c1"/>
<circle cx="332.80" cy="395.84" r="2.3" fill="#eac8c4"/>
<circle cx="278.76" cy="377.33" r="2.6" fill="#e9c4c1"/>
<circle cx="296.77" cy="377.33" r="3.0" fill="#e7bfbd"/>
<circle cx="314.79" cy="377.33" r="3.0" fill="#e7bfbd"/>
<circle cx="332.80" cy="377.33" r="2.3" fill="#eac8c4"/>
<circle cx="296.77" cy="358.81" r="2.5" fill="#eac7c3"/>
<circle cx="314.79" cy="358.81" r="3.1" fill="#e7bfbd"/>
<circle cx="332.80" cy="358.81" r="3.0" fill="#e8c2bf"/>
<circle cx="332.80" cy="340.30" r="3.0" fill="#e8c2bf"/>
<line x1="68.5" y1="612.7" x2="345.9" y2="327.6" stroke="#7a7a7a" stroke-width="1.3" stroke-dasharray="5.3,2.4"/>
<rect x="68.5" y="327.6" width="277.40" height="285.10" fill="none" stroke="#4a4a4a" stroke-width="0.95"/>
<line x1="80.60" y1="612.7" x2="80.60" y2="616.2" stroke="#333" stroke-width="0.8"/>
<text x="80.60" y="626.20" font-size="10.3" text-anchor="middle" font-weight="normal" fill="#262626" textLength="5.73" lengthAdjust="spacingAndGlyphs">0</text>
<line x1="131.04" y1="612.7" x2="131.04" y2="616.2" stroke="#333" stroke-width="0.8"/>
<text x="131.04" y="626.20" font-size="10.3" text-anchor="middle" font-weight="normal" fill="#262626" textLength="11.45" lengthAdjust="spacingAndGlyphs">20</text>
<line x1="181.48" y1="612.7" x2="181.48" y2="616.2" stroke="#333" stroke-width="0.8"/>
<text x="181.48" y="626.20" font-size="10.3" text-anchor="middle" font-weight="normal" fill="#262626" textLength="11.45" lengthAdjust="spacingAndGlyphs">40</text>
<line x1="231.92" y1="612.7" x2="231.92" y2="616.2" stroke="#333" stroke-width="0.8"/>
<text x="231.92" y="626.20" font-size="10.3" text-anchor="middle" font-weight="normal" fill="#262626" textLength="11.45" lengthAdjust="spacingAndGlyphs">60</text>
<line x1="282.36" y1="612.7" x2="282.36" y2="616.2" stroke="#333" stroke-width="0.8"/>
<text x="282.36" y="626.20" font-size="10.3" text-anchor="middle" font-weight="normal" fill="#262626" textLength="11.45" lengthAdjust="spacingAndGlyphs">80</text>
<line x1="332.80" y1="612.7" x2="332.80" y2="616.2" stroke="#333" stroke-width="0.8"/>
<text x="332.80" y="626.20" font-size="10.3" text-anchor="middle" font-weight="normal" fill="#262626" textLength="17.18" lengthAdjust="spacingAndGlyphs">100</text>
<line x1="65.0" y1="599.50" x2="68.5" y2="599.50" stroke="#333" stroke-width="0.8"/>
<text x="61.00" y="603.90" font-size="10.0" text-anchor="end" font-weight="normal" fill="#262626" textLength="5.73" lengthAdjust="spacingAndGlyphs">0</text>
<line x1="65.0" y1="547.66" x2="68.5" y2="547.66" stroke="#333" stroke-width="0.8"/>
<text x="61.00" y="552.06" font-size="10.0" text-anchor="end" font-weight="normal" fill="#262626" textLength="11.45" lengthAdjust="spacingAndGlyphs">20</text>
<line x1="65.0" y1="495.82" x2="68.5" y2="495.82" stroke="#333" stroke-width="0.8"/>
<text x="61.00" y="500.22" font-size="10.0" text-anchor="end" font-weight="normal" fill="#262626" textLength="11.45" lengthAdjust="spacingAndGlyphs">40</text>
<line x1="65.0" y1="443.98" x2="68.5" y2="443.98" stroke="#333" stroke-width="0.8"/>
<text x="61.00" y="448.38" font-size="10.0" text-anchor="end" font-weight="normal" fill="#262626" textLength="11.45" lengthAdjust="spacingAndGlyphs">60</text>
<line x1="65.0" y1="392.14" x2="68.5" y2="392.14" stroke="#333" stroke-width="0.8"/>
<text x="61.00" y="396.54" font-size="10.0" text-anchor="end" font-weight="normal" fill="#262626" textLength="11.45" lengthAdjust="spacingAndGlyphs">80</text>
<line x1="65.0" y1="340.30" x2="68.5" y2="340.30" stroke="#333" stroke-width="0.8"/>
<text x="61.00" y="344.70" font-size="10.0" text-anchor="end" font-weight="normal" fill="#262626" textLength="17.18" lengthAdjust="spacingAndGlyphs">100</text>
<text x="209.9" y="320.2" font-size="15" text-anchor="middle" font-weight="normal" fill="#1a1a1a" textLength="157.7" lengthAdjust="spacingAndGlyphs" style="stroke:none">Prevalence of species</text>
<text x="206.20" y="638.8" font-size="9.4" text-anchor="middle" font-weight="normal" fill="#262626" textLength="29.43" lengthAdjust="spacingAndGlyphs">Before</text>
<circle cx="390.20" cy="599.30" r="3.7" fill="#d8a0aa"/>
<circle cx="409.54" cy="599.30" r="2.9" fill="#e7bfbd"/>
<circle cx="390.20" cy="579.37" r="3.3" fill="#e0afb3"/>
<circle cx="409.54" cy="579.37" r="3.7" fill="#d8a0aa"/>
<circle cx="390.20" cy="559.44" r="2.8" fill="#e7bfbd"/>
<circle cx="409.54" cy="559.44" r="3.3" fill="#e0afb3"/>
<circle cx="409.54" cy="539.51" r="2.6" fill="#e9c4c1"/>
<circle cx="448.23" cy="579.37" r="2.6" fill="#e9c4c1"/>
<circle cx="448.23" cy="559.44" r="2.6" fill="#e9c4c1"/>
<circle cx="448.23" cy="519.59" r="3.2" fill="#e3b6b7"/>
<circle cx="448.23" cy="499.66" r="2.7" fill="#e9c4c1"/>
<circle cx="467.57" cy="499.66" r="2.9" fill="#e7bfbd"/>
<circle cx="486.91" cy="499.66" r="2.7" fill="#e9c4c1"/>
<circle cx="467.57" cy="479.73" r="2.7" fill="#e9c4c1"/>
<circle cx="486.91" cy="439.87" r="2.4" fill="#eac7c3"/>
<circle cx="506.26" cy="419.94" r="2.4" fill="#eac7c3"/>
<circle cx="544.94" cy="419.94" r="3.2" fill="#e5bcbb"/>
<circle cx="583.63" cy="419.94" r="3.2" fill="#e5bcbb"/>
<circle cx="583.63" cy="400.01" r="4.8" fill="#b37093"/>
<circle cx="506.26" cy="360.16" r="2.1" fill="#ebcbc6"/>
<circle cx="602.97" cy="340.23" r="2.4" fill="#eac7c3"/>
<circle cx="622.31" cy="340.23" r="4.2" fill="#d499a7"/>
<circle cx="641.66" cy="340.23" r="6.9" fill="#2d1e3e"/>
<circle cx="622.31" cy="360.16" r="6.4" fill="#452b54"/>
<circle cx="641.66" cy="360.16" r="3.5" fill="#e0afb3"/>
<line x1="377.9" y1="612.7" x2="654.4" y2="327.6" stroke="#7a7a7a" stroke-width="1.3" stroke-dasharray="5.3,2.4"/>
<rect x="377.9" y="327.6" width="276.50" height="285.10" fill="none" stroke="#4a4a4a" stroke-width="0.95"/>
<line x1="425.02" y1="612.7" x2="425.02" y2="616.2" stroke="#333" stroke-width="0.8"/>
<text x="425.02" y="626.20" font-size="10.3" text-anchor="middle" font-weight="normal" fill="#262626" textLength="11.45" lengthAdjust="spacingAndGlyphs">20</text>
<line x1="479.18" y1="612.7" x2="479.18" y2="616.2" stroke="#333" stroke-width="0.8"/>
<text x="479.18" y="626.20" font-size="10.3" text-anchor="middle" font-weight="normal" fill="#262626" textLength="11.45" lengthAdjust="spacingAndGlyphs">40</text>
<line x1="533.34" y1="612.7" x2="533.34" y2="616.2" stroke="#333" stroke-width="0.8"/>
<text x="533.34" y="626.20" font-size="10.3" text-anchor="middle" font-weight="normal" fill="#262626" textLength="11.45" lengthAdjust="spacingAndGlyphs">60</text>
<line x1="587.50" y1="612.7" x2="587.50" y2="616.2" stroke="#333" stroke-width="0.8"/>
<text x="587.50" y="626.20" font-size="10.3" text-anchor="middle" font-weight="normal" fill="#262626" textLength="11.45" lengthAdjust="spacingAndGlyphs">80</text>
<line x1="641.66" y1="612.7" x2="641.66" y2="616.2" stroke="#333" stroke-width="0.8"/>
<text x="641.66" y="626.20" font-size="10.3" text-anchor="middle" font-weight="normal" fill="#262626" textLength="17.18" lengthAdjust="spacingAndGlyphs">100</text>
<line x1="374.4" y1="563.43" x2="377.9" y2="563.43" stroke="#333" stroke-width="0.8"/>
<text x="370.40" y="567.83" font-size="10.0" text-anchor="end" font-weight="normal" fill="#262626" textLength="11.45" lengthAdjust="spacingAndGlyphs">20</text>
<line x1="374.4" y1="507.63" x2="377.9" y2="507.63" stroke="#333" stroke-width="0.8"/>
<text x="370.40" y="512.03" font-size="10.0" text-anchor="end" font-weight="normal" fill="#262626" textLength="11.45" lengthAdjust="spacingAndGlyphs">40</text>
<line x1="374.4" y1="451.83" x2="377.9" y2="451.83" stroke="#333" stroke-width="0.8"/>
<text x="370.40" y="456.23" font-size="10.0" text-anchor="end" font-weight="normal" fill="#262626" textLength="11.45" lengthAdjust="spacingAndGlyphs">60</text>
<line x1="374.4" y1="396.03" x2="377.9" y2="396.03" stroke="#333" stroke-width="0.8"/>
<text x="370.40" y="400.43" font-size="10.0" text-anchor="end" font-weight="normal" fill="#262626" textLength="11.45" lengthAdjust="spacingAndGlyphs">80</text>
<line x1="374.4" y1="340.23" x2="377.9" y2="340.23" stroke="#333" stroke-width="0.8"/>
<text x="370.40" y="344.63" font-size="10.0" text-anchor="end" font-weight="normal" fill="#262626" textLength="17.18" lengthAdjust="spacingAndGlyphs">100</text>
<text x="516" y="320.2" font-size="15" text-anchor="middle" font-weight="normal" fill="#1a1a1a" textLength="169.8" lengthAdjust="spacingAndGlyphs" style="stroke:none">Prevalence of functions</text>
<text x="515.15" y="638.8" font-size="9.4" text-anchor="middle" font-weight="normal" fill="#262626" textLength="29.43" lengthAdjust="spacingAndGlyphs">Before</text>
<text transform="translate(37.8,470.6) rotate(-90)" font-size="10" text-anchor="middle" fill="#262626" textLength="21.7" lengthAdjust="spacingAndGlyphs">After</text>
<text x="6.8" y="308.3" font-size="15" text-anchor="start" font-weight="bold" fill="#000" style="stroke:none">b</text>
<line x1="529.9" y1="375.2" x2="515.5" y2="367.1" stroke="#000" stroke-width="1.5"/>
<polygon points="512.2,365.3 518.4,365.6 515.4,370.3" fill="#000"/>
</g></svg></body></html>
